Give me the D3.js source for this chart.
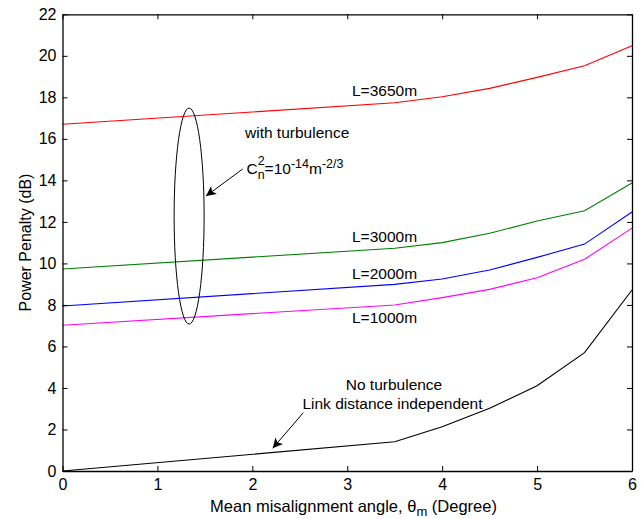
<!DOCTYPE html>
<html><head><meta charset="utf-8">
<script src="https://cdn.jsdelivr.net/npm/d3@7"></script>
<style>body{margin:0;background:#fff}svg{display:block}text{font-family:"Liberation Sans",Arial,sans-serif;fill:#000}</style>
</head><body><svg id="c" width="644" height="519"></svg>
<script>
const angles = [0, 3.5, 4, 4.5, 5, 5.5, 6];
const penalty3650 = [16.70, 17.74, 18.03, 18.43, 18.96, 19.52, 20.49];
const penalty3000 = [9.73, 10.73, 11.00, 11.45, 12.04, 12.54, 13.87];
const penalty2000 = [7.95, 8.99, 9.25, 9.68, 10.29, 10.93, 12.48];
const penalty1000 = [7.02, 8.00, 8.35, 8.75, 9.31, 10.20, 11.70];
const penaltyNoTurb = [0, 1.41, 2.13, 3.02, 4.11, 5.70, 8.72];
const seriesNames = ["L=3650m", "L=3000m", "L=2000m", "L=1000m", "No turbulence"];
const seriesColors = ["#ff0000", "#008000", "#0000ff", "#ff00ff", "#000000"];
const xTicks = [0, 1, 2, 3, 4, 5, 6];
const yTicks = [0, 2, 4, 6, 8, 10, 12, 14, 16, 18, 20, 22];

const svg = d3.select("#c");
const L = 62.5, T = 14.3, R = 632, B = 471;
const x = d3.scaleLinear().domain([0, 6]).range([L, R]);
const y = d3.scaleLinear().domain([0, 22]).range([B, T]);

const defs = svg.append("defs");
defs.append("marker").attr("id", "ah").attr("viewBox", "0 0 10 10").attr("refX", 10).attr("refY", 5)
  .attr("markerWidth", 14).attr("markerHeight", 10).attr("markerUnits", "userSpaceOnUse").attr("orient", "auto")
  .append("path").attr("d", "M0,0 L10,5 L0,10 L2.5,5 Z").attr("fill", "#000");

// series
const allSeries = [penalty3650, penalty3000, penalty2000, penalty1000, penaltyNoTurb];
const line = d3.line().x(d => x(d[0])).y(d => y(d[1]));
allSeries.forEach((vals, i) => {
  svg.append("path").datum(angles.map((a, j) => [a, vals[j]]))
    .attr("d", line).attr("fill", "none").attr("stroke", seriesColors[i]).attr("stroke-width", 1.1);
});

// axes with inward ticks, mirrored
const tickFs = "16px";
const axB = svg.append("g").attr("transform", `translate(0,${B})`)
  .call(d3.axisBottom(x).tickValues(xTicks).tickSizeInner(-5).tickSizeOuter(0).tickPadding(8).tickFormat(d3.format("d")));
const axT = svg.append("g").attr("transform", `translate(0,${T})`)
  .call(d3.axisTop(x).tickValues(xTicks).tickSizeInner(-5).tickSizeOuter(0).tickFormat(""));
const axL = svg.append("g").attr("transform", `translate(${L},0)`)
  .call(d3.axisLeft(y).tickValues(yTicks).tickSizeInner(-5).tickSizeOuter(0).tickPadding(6).tickFormat(d3.format("d")));
const axR = svg.append("g").attr("transform", `translate(${R},0)`)
  .call(d3.axisRight(y).tickValues(yTicks).tickSizeInner(-5).tickSizeOuter(0).tickFormat(""));
[axB, axT, axL, axR].forEach(g => {
  g.select(".domain").attr("stroke", "#000").attr("stroke-width", 1.3);
  g.selectAll(".tick line").attr("stroke", "#000");
  g.selectAll("text").style("font-size", tickFs).style("font-family", '"Liberation Sans",Arial,sans-serif').attr("fill", "#000");
});

// axis titles
const xt = svg.append("text").attr("x", 353.5).attr("y", 511.5).attr("text-anchor", "middle").style("font-size", "16.5px");
xt.append("tspan").text("Mean misalignment angle, ");
xt.append("tspan").text("θ");
xt.append("tspan").attr("dy", 4).style("font-size", "13px").text("m");
xt.append("tspan").attr("dy", -4).text(" (Degree)");
svg.append("text").attr("transform", `translate(30.6,242.5) rotate(-90)`)
  .attr("text-anchor", "middle").style("font-size", "16px").text("Power Penalty (dB)");

// series labels
const fs = "15.5px";
const lbl = (tx, ty, s) => svg.append("text").attr("x", tx).attr("y", ty).style("font-size", fs).text(s);
lbl(352, 96, seriesNames[0]);
lbl(352, 242, seriesNames[1]);
lbl(352, 279, seriesNames[2]);
lbl(352, 323, seriesNames[3]);
lbl(245, 138, "with turbulence");
svg.append("text").attr("x", 394).attr("y", 390).attr("text-anchor", "middle").style("font-size", fs).text(seriesNames[4]);
svg.append("text").attr("x", 392.5).attr("y", 409).attr("text-anchor", "middle").style("font-size", fs).text("Link distance independent");

// Cn^2 formula
const cn = svg.append("text").attr("x", 246.5).attr("y", 174).style("font-size", fs);
cn.append("tspan").text("C");
cn.append("tspan").attr("dy", 5).style("font-size", "12.5px").text("n");
cn.append("tspan").attr("dx", -7).attr("dy", -14).style("font-size", "12.5px").text("2");
cn.append("tspan").attr("dy", 9).text("=10");
cn.append("tspan").attr("dy", -6).style("font-size", "12.5px").text("-14");
cn.append("tspan").attr("dy", 6).text("m");
cn.append("tspan").attr("dy", -6).style("font-size", "12.5px").text("-2/3");

// ellipse grouping turbulence curves
svg.append("ellipse").attr("cx", x(1.334)).attr("cy", y(12.28)).attr("rx", 15).attr("ry", 108)
  .attr("fill", "none").attr("stroke", "#000").attr("stroke-width", 1);

// arrows
svg.append("line").attr("x1", 242.7).attr("y1", 169).attr("x2", 206).attr("y2", 196)
  .attr("stroke", "#000").attr("stroke-width", 1).attr("marker-end", "url(#ah)");
svg.append("line").attr("x1", 303.3).attr("y1", 412.7).attr("x2", 272.7).attr("y2", 448.3)
  .attr("stroke", "#000").attr("stroke-width", 1).attr("marker-end", "url(#ah)");
</script></body></html>
